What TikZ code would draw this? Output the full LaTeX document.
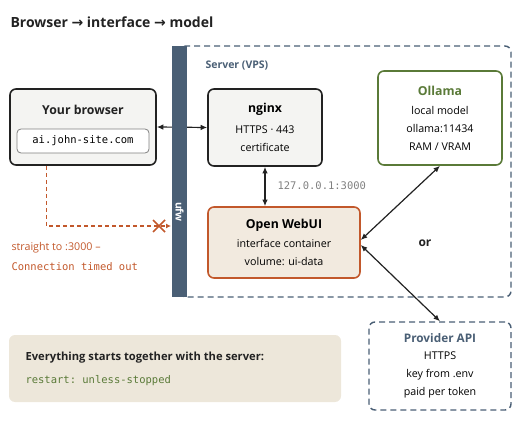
\documentclass[tikz,border=0pt]{standalone}
\usepackage{fontspec}
\setmainfont{Open Sans}
\setmonofont{DejaVu Sans Mono}
\newfontfamily\symfont{DejaVu Sans}
\usetikzlibrary{arrows.meta}

\definecolor{slate}{HTML}{4A5F75}
\definecolor{ink}{HTML}{222222}
\definecolor{rust}{HTML}{C2582B}
\definecolor{moss}{HTML}{5A7A38}
\definecolor{sand}{HTML}{EDE7DA}
\definecolor{cream}{HTML}{F2EADF}
\definecolor{paper}{HTML}{F4F4F2}

\tikzset{
  box/.style={draw=ink, line width=1.6pt, rounded corners=6pt, fill=paper, align=center, inner sep=0pt},
  body/.style={font=\fontsize{10.7}{18}\selectfont},
  ttl/.style={font=\fontsize{12.3}{16}\selectfont\bfseries},
  mono/.style={font=\fontsize{10.5}{13}\selectfont\ttfamily},
  >={Latex[length=6.5pt,width=5.5pt]}
}

\begin{document}
\begin{tikzpicture}[x=1pt,y=-1pt]
    \useasboundingbox (0,0) rectangle (520,425);
    % title
    \node[anchor=base west, font=\fontsize{14}{18}\selectfont\bfseries, text=ink] (title) at (7,28)
        {Browser {\symfont\bfseries →} interface {\symfont\bfseries →} model};

    % server area
    \draw[slate, line width=1.4pt, dash pattern=on 6pt off 4pt, rounded corners=6pt] (180,46) rectangle (511,297);
    \node[anchor=base west, font=\fontsize{10.5}{13}\selectfont\bfseries, text=slate] (vps) at (202,69) {Server (VPS)};

    % boxes
    \node[box, minimum width=146pt, minimum height=76pt] (browser) at (83,127) {};
    \node[ttl, text=ink] (browsertitle) at (83,110) {Your browser};
    \node[draw=gray, fill=white, rounded corners=4pt, line width=0.8pt, minimum width=132pt, minimum height=24pt, inner sep=0pt, mono] (url) at (83,141) {ai.john-site.com};

    \node[box, minimum width=114pt, minimum height=77pt, body] (nginx) at (265,127.5)
        {{\fontsize{12.3}{16}\selectfont\bfseries nginx}\\[3pt] HTTPS · 443\\ certificate};
    \node[box, draw=moss, fill=white, minimum width=124pt, minimum height=94pt, body] (ollama) at (440,118)
        {{\fontsize{12.3}{16}\selectfont\bfseries\color{moss}Ollama}\\[1pt] local model\\ ollama:11434\\ RAM / VRAM};
    \node[box, draw=rust, fill=cream, minimum width=152pt, minimum height=71pt, body] (webui) at (284,242.5)
        {{\fontsize{12.3}{16}\selectfont\bfseries Open WebUI}\\[1pt] interface container\\ volume: ui-data};
    \node[box, draw=slate, fill=white, line width=1.4pt, dash pattern=on 6pt off 4pt, minimum width=142pt, minimum height=88pt, body] (provider) at (440,366)
        {{\fontsize{11.8}{16}\selectfont\bfseries\color{slate}Provider API}\\[-1pt] HTTPS\\ key from .env\\ paid per token};

    % connectors
    \draw[<->, line width=1.2pt, ink] (browser.east) -- (nginx.west);
    \draw[<->, line width=1.2pt, ink] (nginx.south) -- (nginx.south |- webui.north);
    \node[anchor=west, mono, text=gray] (loopback) at (274,186) {127.0.0.1:3000};
    \draw[<->, line width=1.2pt, ink] ([yshift=2.5pt]webui.east) -- (ollama.south);
    \draw[<->, line width=1.2pt, ink] ([yshift=-2.5pt]webui.east) -- (provider.north);
    \node[font=\fontsize{12}{14}\selectfont\bfseries, text=ink] (or) at (425,243) {or};

    % blocked path
    \coordinate (blocked) at (171,226);
    \coordinate (cut) at (159,226);
    \draw[->, rust, line width=1.3pt, dash pattern=on 4pt off 3pt, >={Latex[length=5pt,width=5pt]}] ([xshift=37pt]browser.south west) |- (blocked);
    \draw[rust, line width=1.6pt] ([shift={(-6pt,-6pt)}]cut) -- ([shift={(6pt,6pt)}]cut)
        ([shift={(-6pt,6pt)}]cut) -- ([shift={(6pt,-6pt)}]cut);
    \node[anchor=base west, text=rust, font=\fontsize{10.7}{13}\selectfont] (why) at (8,251) {straight to :3000 –};
    \node[anchor=base west, text=rust, mono] (timeout) at (8,270) {Connection timed out};

    % firewall
    \node[fill=slate, minimum width=15pt, minimum height=251pt, inner sep=0pt] (ufw) at (179.5,171.5) {};
    \node[rotate=-90, text=white, font=\fontsize{10.5}{13}\selectfont\bfseries] (ufwlabel) at (179.5,212) {ufw};

    % note
    \node[fill=sand, rounded corners=6pt, minimum width=332pt, minimum height=67pt] (note) at (175,368.5) {};
    \node[anchor=base west, text=ink, font=\fontsize{11.2}{14}\selectfont\bfseries] (notetitle) at (22,360) {Everything starts together with the server:};
    \node[anchor=base west, text=moss, mono] (restart) at (22,383) {restart: unless-stopped};
\end{tikzpicture}
\end{document}
